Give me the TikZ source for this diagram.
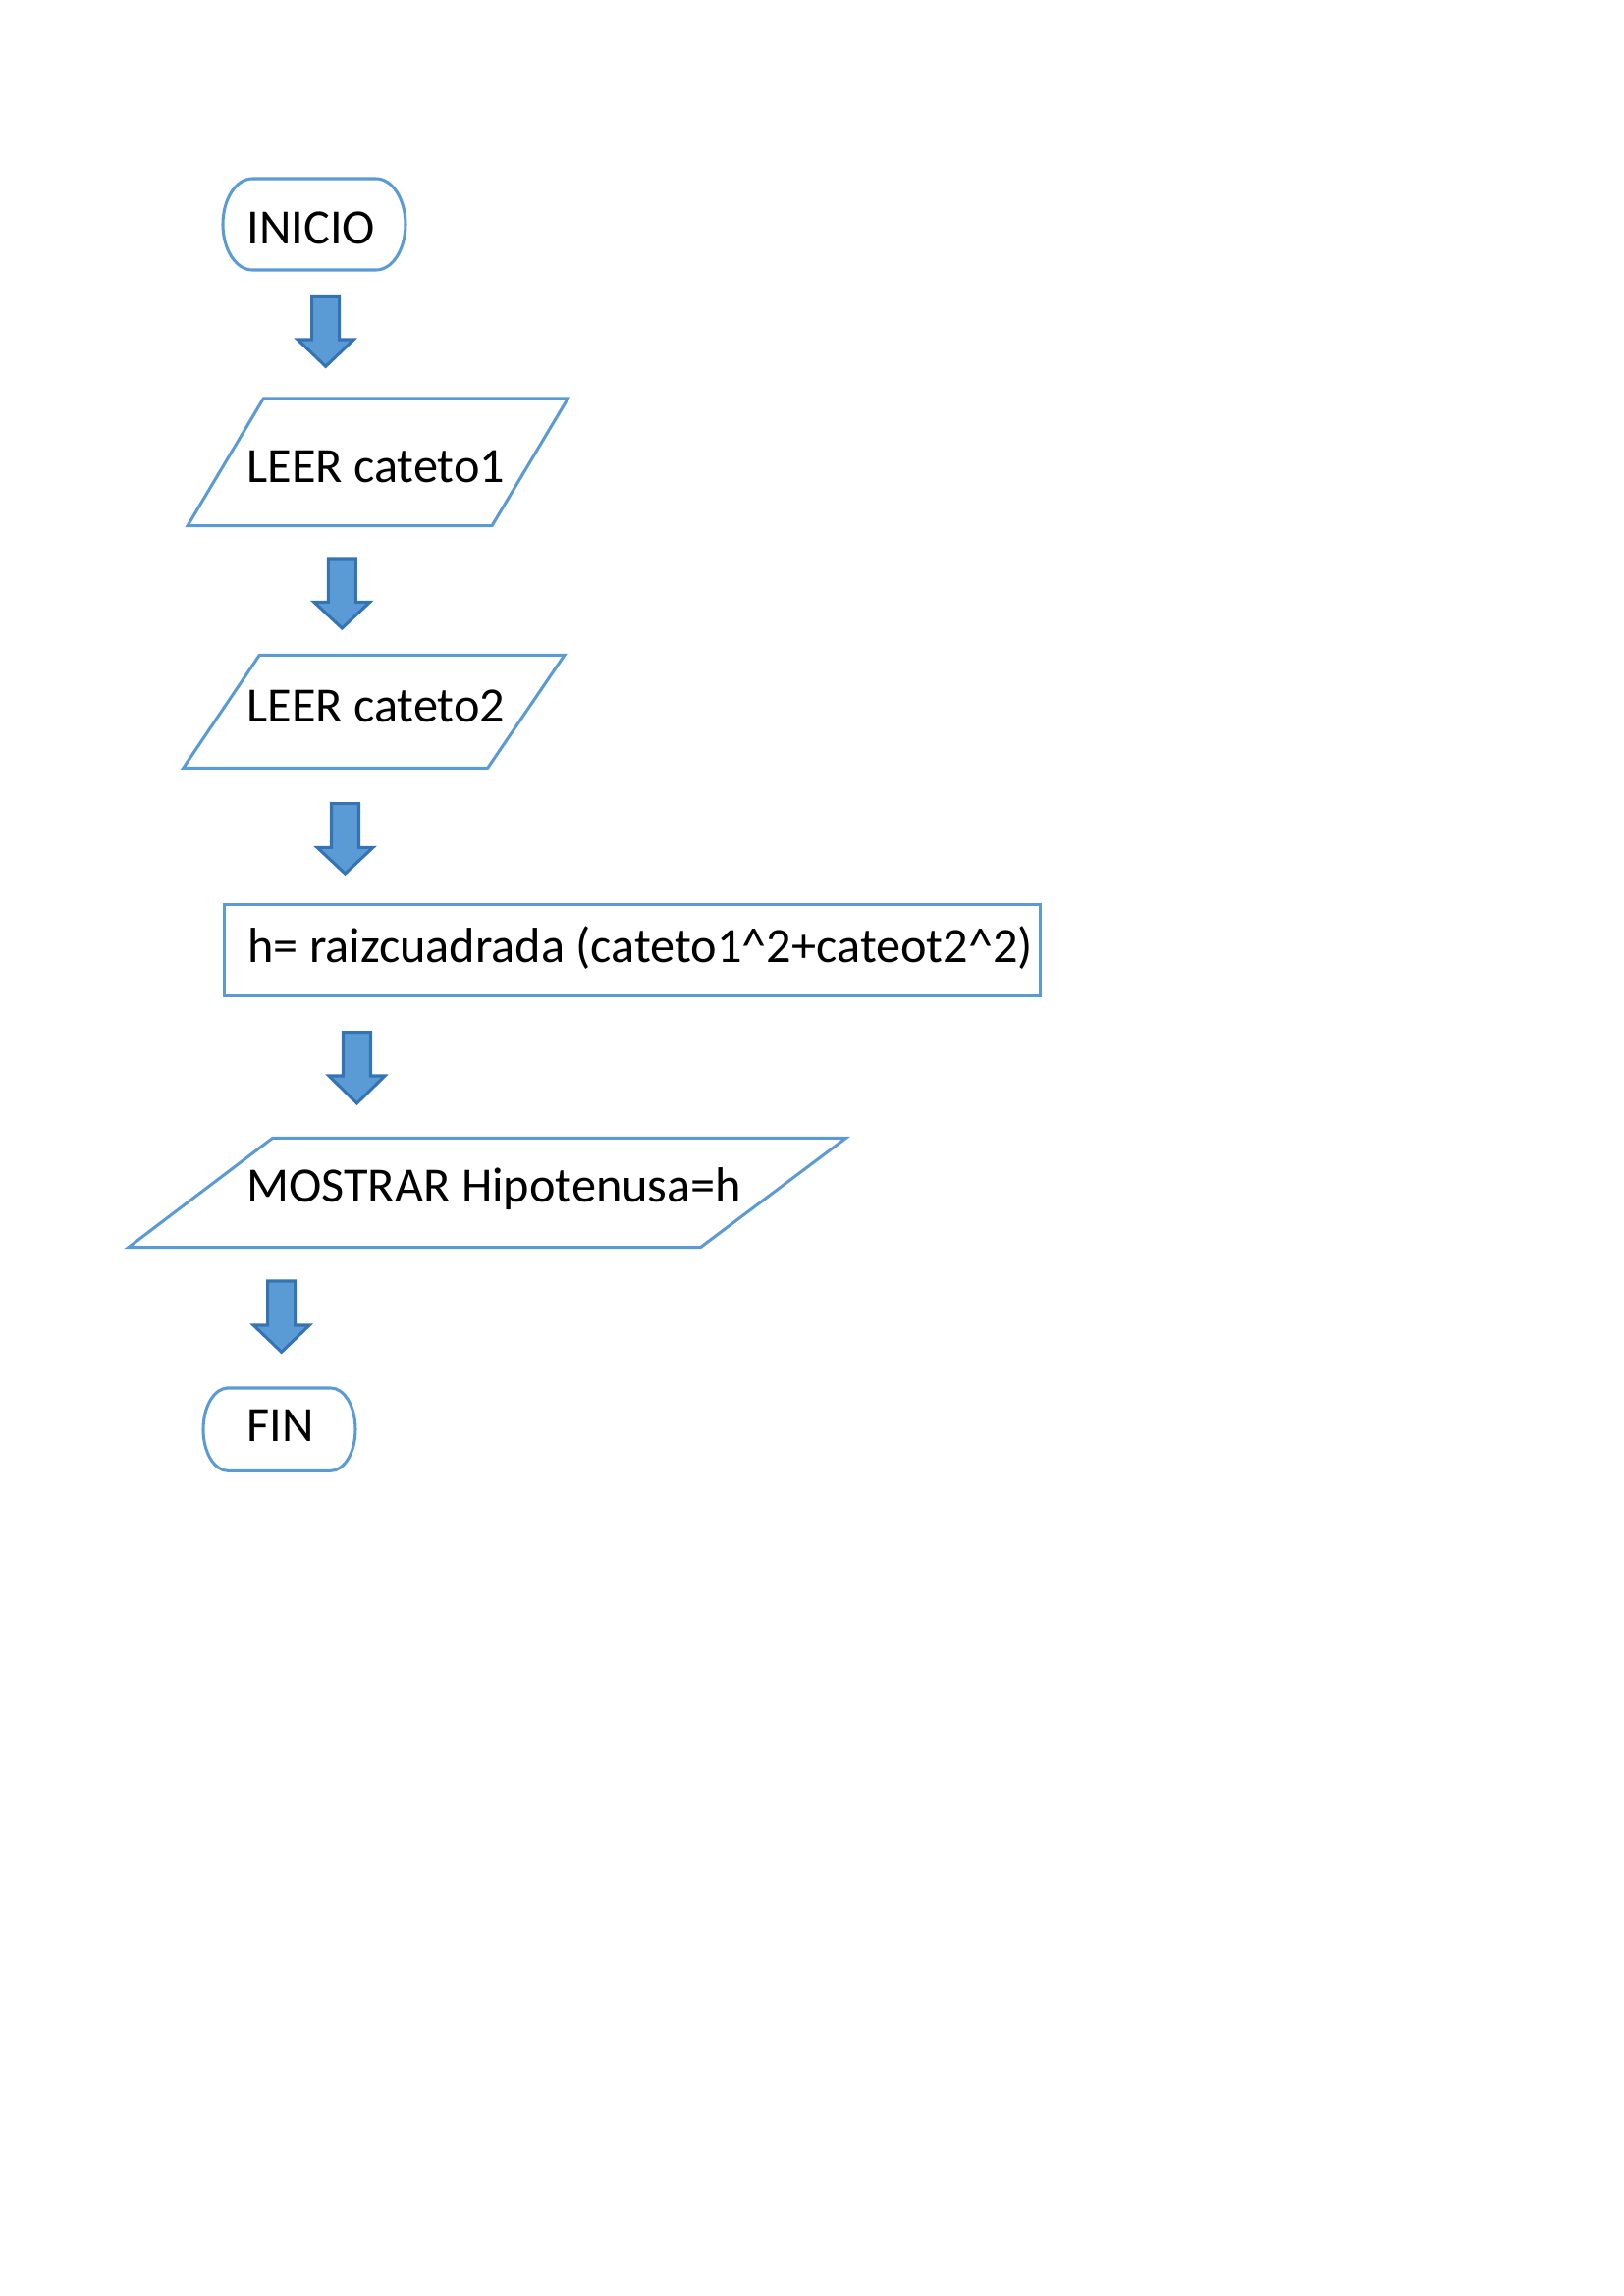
\documentclass[tikz,border=0pt]{standalone}
\usepackage{fontspec}
\setmainfont{Carlito}
\definecolor{bordeazul}{RGB}{91,155,213}
\definecolor{rellenoazul}{RGB}{91,155,213}
\definecolor{lineaflecha}{RGB}{52,116,180}
\tikzset{every picture/.style={line width=1pt}}
\tikzset{
  forma/.style={draw=bordeazul, line width=1.1pt, line join=miter},
  flecha/.style={draw=lineaflecha, fill=rellenoazul, line width=1.1pt, line join=miter},
  texto/.style={anchor=base west, inner sep=0pt, font=\fontsize{18.1}{22}\selectfont}
}
\begin{document}
\begin{tikzpicture}[x=0.3599pt,y=0.3599pt,yscale=-1,xscale=1]
\path[use as bounding box] (0,0) rectangle (1654,2339);

%Shape: Terminator [id:inicio]
\draw [forma] (257,182) -- (383,182) arc[start angle=-90, end angle=90, x radius=30, y radius=46.5] -- (257,275) arc[start angle=90, end angle=270, x radius=30, y radius=46.5] -- cycle ;
%Shape: Down Arrow [id:flecha1]
\draw [flecha] (317.7,302.3) -- (345.7,302.3) -- (345.7,346) -- (360.2,346) -- (331.7,373.3) -- (303.2,346) -- (317.7,346) -- cycle ;
%Shape: Parallelogram [id:leer1]
\draw [forma] (268.3,406) -- (578.3,406) -- (501,535.7) -- (191,535.7) -- cycle ;
%Shape: Down Arrow [id:flecha2]
\draw [flecha] (334.3,569) -- (362.3,569) -- (362.3,613.3) -- (376.8,613.3) -- (348.3,640) -- (319.8,613.3) -- (334.3,613.3) -- cycle ;
%Shape: Parallelogram [id:leer2]
\draw [forma] (264.3,667.3) -- (575,667.3) -- (496.7,782.3) -- (186.7,782.3) -- cycle ;
%Shape: Down Arrow [id:flecha3]
\draw [flecha] (337.5,818.7) -- (365.5,818.7) -- (365.5,863.3) -- (380,863.3) -- (351.5,890) -- (323,863.3) -- (337.5,863.3) -- cycle ;
%Shape: Rectangle [id:calculo]
\draw [forma] (228.7,921.7) rectangle (1059.3,1014.3) ;
%Shape: Down Arrow [id:flecha4]
\draw [flecha] (349.5,1051.7) -- (377.5,1051.7) -- (377.5,1096) -- (392,1096) -- (363.5,1124) -- (335,1096) -- (349.5,1096) -- cycle ;
%Shape: Parallelogram [id:mostrar]
\draw [forma] (277.7,1159.3) -- (861.7,1159.3) -- (713.3,1270.7) -- (130.7,1270.7) -- cycle ;
%Shape: Down Arrow [id:flecha5]
\draw [flecha] (272.7,1305) -- (300.7,1305) -- (300.7,1350) -- (315.2,1350) -- (286.7,1377.3) -- (258.2,1350) -- (272.7,1350) -- cycle ;
%Shape: Terminator [id:fin]
\draw [forma] (232,1414) -- (337,1414) arc[start angle=-90, end angle=90, x radius=25, y radius=42.15] -- (232,1498.3) arc[start angle=90, end angle=270, x radius=25, y radius=42.15] -- cycle ;

% Text Node
\draw (250,248.3) node [texto] (tinicio) {INICIO};
% Text Node
\draw (250,491.7) node [texto] (tleer1) {LEER cateto1};
% Text Node
\draw (250,735) node [texto] (tleer2) {LEER cateto2};
% Text Node
\draw (251,980) node [texto] (tcalculo) {h= raizcuadrada (cateto1\^{}2+cateot2\^{}2)};
% Text Node
\draw (250,1224) node [texto] (tmostrar) {MOSTRAR Hipotenusa=h};
% Text Node
\draw (250,1468.3) node [texto] (tfin) {FIN};

\end{tikzpicture}
\end{document}
